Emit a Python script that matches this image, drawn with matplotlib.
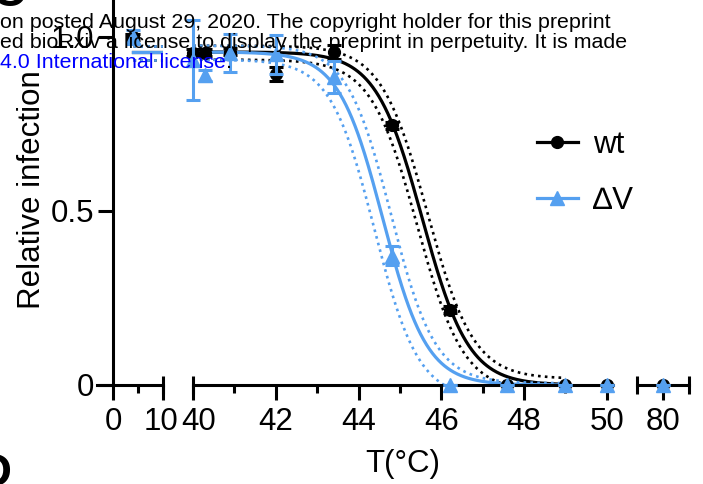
import numpy as np
import matplotlib
matplotlib.use("Agg")
import matplotlib.pyplot as plt
import matplotlib.transforms as mtransforms
from matplotlib.lines import Line2D

plt.rcParams['font.family'] = ['Liberation Sans', 'DejaVu Sans']

# %% data
temps = [4, 40.0, 40.3, 40.9, 42.0, 43.4, 44.8, 46.2, 47.6, 49.0, 50.0, 80]
wt = [1.0, 0.955, 0.955, 0.957, 0.895, 0.957, 0.747, 0.216, 0.0, 0.0, 0.0, 0.0]
wt_err = [0.01, 0.01, 0.01, 0.01, 0.02, 0.02, 0.01, 0.01, 0, 0, 0, 0]
dv = [1.0, 0.935, 0.89, 0.955, 0.95, 0.885, 0.372, 0.0, 0.0, 0.0, 0.0, 0.0]
dv_err = [0.02, 0.115, 0.015, 0.055, 0.055, 0.047, 0.028, 0, 0, 0, 0, 0]

# fitted sigmoid params (top, T50, slope, bottom) and 95% bands
wt_fit = (0.957, 45.54, 0.56, 0.0)
wt_band_hi = (0.975, 45.66, 0.56, 0.018)
wt_band_lo = (0.935, 45.42, 0.56, -0.02)
dv_fit = (0.957, 44.585, 0.534, 0.0)
dv_band_hi = (0.975, 44.785, 0.534, 0.005)
dv_band_lo = (0.935, 44.385, 0.534, -0.04)
fit_range = (4, 49.0)

BLUE = '#55A0F0'
FS = 22.5
W, H = 703, 484


def sigmoid(x, p):
    top, x0, s, bot = p
    return bot + (top - bot) / (1 + np.exp((x - x0) / s))


fig = plt.figure(figsize=(W / 100, H / 100), dpi=100)

y0, ytop = 385, 385 - 1.12 * 348
segs = [  # (left px, right px, xlim, major, minor)
    (97, 163, (-3.2, 10), [0, 10], [5]),
    (193, 613, (40, 50.15), [40, 42, 44, 46, 48, 50], [41, 43, 45, 47, 49]),
    (637, 689, (79.5, 80.5), [80], []),
]
caps = [[10], [40], [79.5, 80.5]]

axs = []
for i, (l, r, xl, maj, mnr) in enumerate(segs):
    ax = fig.add_axes([l / W, (H - y0) / H, (r - l) / W, (y0 - ytop) / H])
    ax.set_xlim(*xl)
    ax.set_ylim(0, 1.12)
    ax.patch.set_visible(False)
    for sp in ['top', 'right']:
        ax.spines[sp].set_visible(False)
    ax.spines['bottom'].set_linewidth(2.2)
    ax.set_xticks(maj)
    ax.set_xticks(mnr, minor=True)
    ax.set_xticklabels([str(m) for m in maj])
    ax.tick_params(axis='x', which='major', direction='out', length=10.5, width=2.2,
                   labelsize=FS, pad=5)
    ax.tick_params(axis='x', which='minor', direction='out', length=5.5, width=2.2)
    if i == 0:
        ax.spines['left'].set_position(('data', 0))
        ax.spines['left'].set_linewidth(2.2)
        ax.set_yticks([0, 0.5, 1.0])
        ax.set_yticklabels(['0', '0.5', '1.0'])
        ax.tick_params(axis='y', direction='out', length=10.5, width=2.2,
                       labelsize=FS, pad=3)
    else:
        ax.spines['left'].set_visible(False)
        ax.set_yticks([])
    for c in caps[i]:
        ax.plot([c], [0], marker='|', ms=13, mew=2.2, color='k', clip_on=False, zorder=5)

    lo, hi = xl
    if lo < fit_range[1]:
        xs = np.linspace(max(lo, fit_range[0]), min(hi, fit_range[1]), 500)
        for p, col, ls in [(wt_band_hi, 'k', ':'), (wt_band_lo, 'k', ':'), (wt_fit, 'k', '-'),
                           (dv_band_hi, BLUE, ':'), (dv_band_lo, BLUE, ':'), (dv_fit, BLUE, '-')]:
            if ls == '-':
                ax.plot(xs, sigmoid(xs, p), color=col, lw=2.3, zorder=2)
            else:
                ax.plot(xs, sigmoid(xs, p), color=col, lw=1.9, ls=(0, (1, 1.6)), zorder=2)

    t = np.array(temps)
    m = (t >= lo) & (t <= hi)
    ax.errorbar(t[m], np.array(wt)[m], yerr=np.array(wt_err)[m], fmt='o', color='k',
                ms=8.5, elinewidth=2.2, capsize=5, capthick=2.2, clip_on=False, zorder=3)
    ax.errorbar(t[m], np.array(dv)[m], yerr=np.array(dv_err)[m], fmt='^', color=BLUE,
                ms=10, elinewidth=2.2, capsize=5, capthick=2.2, clip_on=False, zorder=4)
    axs.append(ax)

# nudge the crowded "10" / "40" labels at the break
lab10 = axs[0].get_xticklabels()[1]
lab10.set_transform(lab10.get_transform() + mtransforms.ScaledTranslation(-2 / 100, 0, fig.dpi_scale_trans))
lab40 = axs[1].get_xticklabels()[0]
lab40.set_transform(lab40.get_transform() + mtransforms.ScaledTranslation(6 / 100, 0, fig.dpi_scale_trans))

axs[0].set_ylabel('Relative infection', fontsize=FS)
axs[0].yaxis.set_label_coords(-0.75, 0.5)
axs[1].set_xlabel('T(°C)', fontsize=FS, labelpad=9)

handles = [Line2D([], [], color='k', lw=2.3, marker='o', ms=8.5),
           Line2D([], [], color=BLUE, lw=2.3, marker='^', ms=10)]
axs[1].legend(handles, ['wt', '∆V'], loc='center left', bbox_to_anchor=((537 - 193) / 420, 0.544),
              frameon=False, fontsize=FS, handlelength=1.3, handletextpad=0.5,
              labelspacing=0.85, borderpad=0, borderaxespad=0)

# overlapping preprint watermark and neighbouring panel letters
wfs = 15.4
fig.text(0, 1 - 28 / H, 'on posted August 29, 2020. The copyright holder for this preprint',
         fontsize=wfs, va='baseline')
fig.text(0, 1 - 48 / H, 'ed bioRxiv a license to display the preprint in perpetuity. It is made',
         fontsize=wfs, va='baseline')
t3 = fig.text(0, 1 - 68 / H, '4.0 International license', fontsize=wfs, va='baseline', color='#0000FF')
fig.canvas.draw()
bb = t3.get_window_extent()
fig.text(bb.x1 / W, 1 - 68 / H, '.', fontsize=wfs, va='baseline')
fig.text(-0.012, 1 - 6 / H, 'C', fontsize=34, fontweight='bold', va='baseline')
fig.text(-0.032, 1 - 452 / H, 'D', fontsize=34, fontweight='bold', va='top')

fig.savefig('out.png', dpi=100)
